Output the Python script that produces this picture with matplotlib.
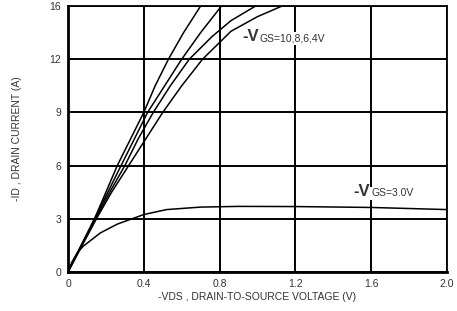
import numpy as np
import matplotlib
matplotlib.use("Agg")
import matplotlib.pyplot as plt

plt.rcParams['font.family'] = ['Liberation Sans', 'DejaVu Sans']

# -VDS (V) / -ID (A)
vds_10 = [0, 0.07, 0.14, 0.20, 0.26, 0.33, 0.40, 0.46, 0.53, 0.61, 0.70]
id_10 = [0, 1.5, 3, 4.5, 6, 7.5, 9, 10.5, 12, 14, 16]
vds_8 = [0, 0.07, 0.14, 0.21, 0.28, 0.35, 0.42, 0.51, 0.60, 0.70, 0.81]
id_8 = [0, 1.5, 3, 4.5, 6, 7.5, 9, 10.5, 12, 14, 16]
vds_6 = [0, 0.07, 0.145, 0.22, 0.30, 0.37, 0.45, 0.54, 0.64, 0.76, 0.86, 0.99]
id_6 = [0, 1.5, 3, 4.5, 6, 7.5, 9, 10.5, 12, 13.7, 14.9, 16]
vds_4 = [0, 0.075, 0.15, 0.23, 0.32, 0.41, 0.50, 0.60, 0.71, 0.86, 1.0, 1.13]
id_4 = [0, 1.5, 3, 4.5, 6, 7.5, 9, 10.5, 12, 14.1, 15.2, 16]
vds_3 = [0, 0.02, 0.05, 0.08, 0.17, 0.26, 0.40, 0.52, 0.70, 0.90, 1.20, 1.60, 2.00]
id_3 = [0, 0.55, 1.1, 1.45, 2.2, 2.7, 3.24, 3.52, 3.66, 3.70, 3.69, 3.64, 3.52]

x_ticks = [0, 0.4, 0.8, 1.2, 1.6, 2.0]
x_labels = ['0', '0.4', '0.8', '1.2', '1.6', '2.0']
y_ticks = [0, 3, 6, 9, 12, 16]


# the top division (12..16) is drawn the same height as the others
def fwd(y):
    y = np.asarray(y, dtype=float)
    return np.where(y <= 12, y, 12 + (y - 12) * 0.75)


def inv(y):
    y = np.asarray(y, dtype=float)
    return np.where(y <= 12, y, 12 + (y - 12) / 0.75)


fig = plt.figure(figsize=(4.57, 3.11), dpi=100)
ax = fig.add_axes([0.1488, 0.1254, 0.8293, 0.8553])
ax.set_yscale('function', functions=(fwd, inv))

for xs, ys in [(vds_10, id_10), (vds_8, id_8), (vds_6, id_6), (vds_4, id_4), (vds_3, id_3)]:
    ax.plot(xs, ys, color='black', lw=1.1, solid_capstyle='butt')

ax.set_xlim(0, 2.0)
ax.set_ylim(0, 16)
ax.set_xticks(x_ticks)
ax.set_xticklabels(x_labels)
ax.set_yticks(y_ticks)
ax.set_yticklabels([str(v) for v in y_ticks])
ax.tick_params(length=0, labelsize=7.5, labelcolor='#333333', pad=5)
ax.grid(True, color='black', lw=1.4)

for side in ['left', 'bottom']:
    ax.spines[side].set_linewidth(2.0)
for side in ['top', 'right']:
    ax.spines[side].set_linewidth(1.3)

ax.set_xlabel('-VDS , DRAIN-TO-SOURCE VOLTAGE (V)', fontsize=7.5, color='#333333', labelpad=2)
ax.set_ylabel('-ID , DRAIN CURRENT (A)', fontsize=7.5, color='#333333', labelpad=20)

box = dict(facecolor='white', edgecolor='none', pad=1)
ax.text(0.918, 13.35, '-V', fontsize=12, fontweight='bold', color='#333333', ha='left', va='baseline')
ax.text(1.012, 13.35, 'GS=10,8,6,4V', fontsize=7.5, color='#333333', ha='left', va='baseline', bbox=box)
ax.text(1.504, 4.26, '-V', fontsize=12, fontweight='bold', color='#333333', ha='left', va='baseline')
ax.text(1.603, 4.26, 'GS=3.0V', fontsize=7.5, color='#333333', ha='left', va='baseline', bbox=box)

fig.savefig('out.png', dpi=100)
